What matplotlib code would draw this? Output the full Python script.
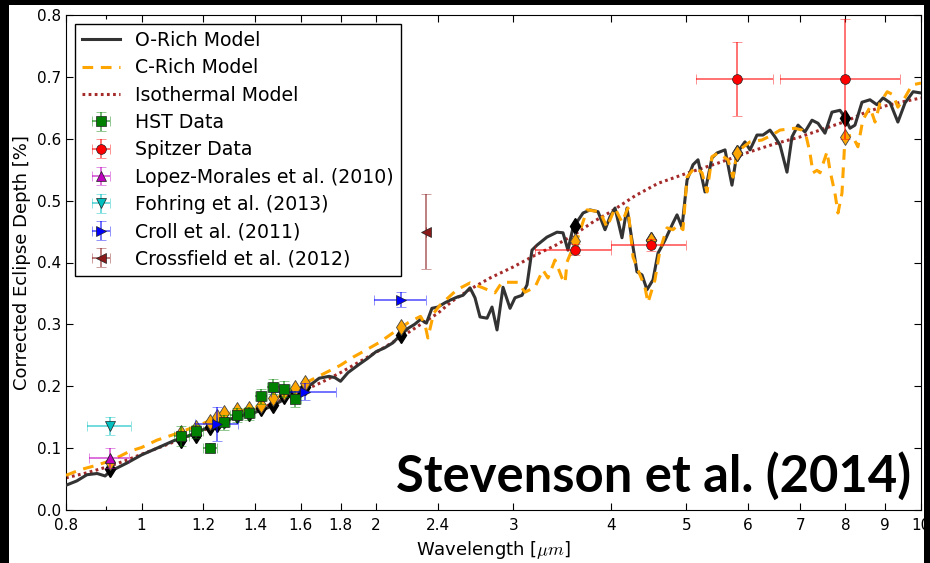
import matplotlib
matplotlib.use("Agg")
import matplotlib.pyplot as plt
from matplotlib.patches import Rectangle
from matplotlib.ticker import FixedLocator, FixedFormatter, FormatStrFormatter, LogLocator, NullFormatter

plt.rcParams['font.family'] = ['DejaVu Sans']
plt.rcParams['mathtext.fontset'] = 'cm'

# O-rich model spectrum (wavelength in micron, eclipse depth in %)
orich_wave = [0.800, 0.826, 0.851, 0.877, 0.898, 0.910, 0.958, 1.000, 1.047, 1.100,
              1.150, 1.200, 1.250, 1.300, 1.350, 1.400, 1.450, 1.500, 1.550, 1.600,
              1.650, 1.690, 1.740, 1.770, 1.800, 1.840, 1.900, 1.950, 2.000, 2.050,
              2.100, 2.150, 2.200, 2.240, 2.280, 2.320, 2.358, 2.400, 2.451, 2.487,
              2.539, 2.585, 2.639, 2.678, 2.718, 2.775, 2.816, 2.858, 2.909, 2.970,
              3.014, 3.077, 3.123, 3.169, 3.216, 3.312, 3.412, 3.473, 3.524, 3.577,
              3.685, 3.762, 3.852, 3.932, 3.991, 4.050, 4.134, 4.196, 4.258, 4.321,
              4.386, 4.451, 4.531, 4.598, 4.694, 4.807, 4.864, 4.936, 5.010, 5.099,
              5.175, 5.283, 5.393, 5.474, 5.605, 5.721, 5.807, 5.945, 6.034, 6.160,
              6.270, 6.401, 6.496, 6.593, 6.731, 6.831, 6.954, 7.098, 7.247, 7.377,
              7.530, 7.687, 7.872, 7.990, 8.107, 8.228, 8.400, 8.600, 8.780, 8.940,
              9.130, 9.340, 9.540, 9.770, 10.00]
orich_depth = [0.040, 0.047, 0.057, 0.059, 0.055, 0.062, 0.076, 0.089, 0.100, 0.112,
               0.120, 0.130, 0.139, 0.147, 0.153, 0.158, 0.165, 0.174, 0.184, 0.193,
               0.203, 0.213, 0.216, 0.214, 0.208, 0.222, 0.235, 0.245, 0.256, 0.262,
               0.270, 0.283, 0.294, 0.300, 0.308, 0.302, 0.326, 0.328, 0.335, 0.339,
               0.344, 0.347, 0.359, 0.343, 0.312, 0.310, 0.328, 0.291, 0.360, 0.326,
               0.343, 0.347, 0.364, 0.420, 0.428, 0.441, 0.449, 0.448, 0.420, 0.456,
               0.480, 0.485, 0.482, 0.453, 0.474, 0.488, 0.440, 0.488, 0.436, 0.385,
               0.380, 0.356, 0.372, 0.415, 0.436, 0.464, 0.477, 0.457, 0.533, 0.558,
               0.566, 0.514, 0.569, 0.577, 0.582, 0.525, 0.577, 0.595, 0.582, 0.606,
               0.606, 0.614, 0.603, 0.590, 0.546, 0.603, 0.622, 0.611, 0.630, 0.625,
               0.609, 0.643, 0.646, 0.634, 0.617, 0.622, 0.659, 0.663, 0.655, 0.666,
               0.658, 0.627, 0.658, 0.676, 0.674]

# C-rich model spectrum
crich_wave = [0.800, 0.834, 0.868, 0.915, 0.966, 1.000, 1.047, 1.100, 1.150, 1.200,
              1.250, 1.300, 1.350, 1.400, 1.450, 1.500, 1.550, 1.600, 1.650, 1.730,
              1.800, 1.868, 1.950, 2.020, 2.100, 2.200, 2.280, 2.310, 2.330, 2.370,
              2.415, 2.539, 2.639, 2.742, 2.841, 2.900, 2.952, 3.041, 3.104, 3.197,
              3.273, 3.322, 3.392, 3.463, 3.494, 3.515, 3.566, 3.619, 3.728, 3.874,
              3.955, 4.050, 4.134, 4.208, 4.271, 4.334, 4.425, 4.464, 4.557, 4.625,
              4.722, 4.807, 4.878, 4.950, 5.010, 5.130, 5.237, 5.315, 5.393, 5.490,
              5.654, 5.738, 5.807, 5.892, 6.034, 6.252, 6.439, 6.593, 6.891, 7.035,
              7.118, 7.204, 7.268, 7.355, 7.421, 7.576, 7.642, 7.755, 7.825, 7.918,
              7.990, 8.155, 8.300, 8.420, 8.600, 8.730, 8.860, 9.050, 9.210, 9.340,
              9.540, 9.740, 10.00]
crich_depth = [0.056, 0.065, 0.071, 0.080, 0.095, 0.101, 0.113, 0.122, 0.131, 0.140,
               0.149, 0.157, 0.161, 0.166, 0.174, 0.183, 0.192, 0.201, 0.210, 0.223,
               0.234, 0.247, 0.260, 0.271, 0.286, 0.303, 0.313, 0.300, 0.278, 0.318,
               0.331, 0.356, 0.367, 0.359, 0.351, 0.368, 0.368, 0.368, 0.352, 0.360,
               0.388, 0.375, 0.404, 0.375, 0.367, 0.401, 0.420, 0.436, 0.485, 0.482,
               0.457, 0.488, 0.465, 0.488, 0.409, 0.388, 0.360, 0.335, 0.372, 0.420,
               0.456, 0.453, 0.461, 0.453, 0.538, 0.554, 0.545, 0.514, 0.571, 0.577,
               0.566, 0.538, 0.577, 0.585, 0.595, 0.598, 0.606, 0.614, 0.617, 0.614,
               0.606, 0.577, 0.545, 0.549, 0.545, 0.579, 0.549, 0.512, 0.480, 0.512,
               0.603, 0.606, 0.587, 0.630, 0.651, 0.627, 0.658, 0.676, 0.671, 0.651,
               0.667, 0.687, 0.690]

# isothermal model
iso_wave = [0.80, 0.85, 0.90, 0.95, 1.00, 1.10, 1.20, 1.30, 1.40, 1.50,
            1.60, 1.70, 1.80, 1.90, 2.00, 2.10, 2.20, 2.30, 2.40, 2.50,
            2.65, 2.80, 3.00, 3.20, 3.40, 3.60, 3.80, 4.00, 4.30, 4.60,
            5.00, 5.50, 6.00, 6.50, 7.00, 7.50, 8.00, 8.50, 9.00, 9.50, 10.0]
iso_depth = [0.052, 0.060, 0.069, 0.079, 0.090, 0.110, 0.129, 0.146, 0.161, 0.176,
             0.191, 0.206, 0.222, 0.239, 0.255, 0.271, 0.287, 0.303, 0.318, 0.337,
             0.358, 0.375, 0.393, 0.412, 0.428, 0.446, 0.466, 0.482, 0.508, 0.528,
             0.544, 0.561, 0.578, 0.592, 0.603, 0.616, 0.628, 0.643, 0.653, 0.660, 0.666]

# band-integrated model values at the observed wavelengths
bin_wave = [0.91, 1.125, 1.175, 1.225, 1.25, 1.275, 1.325, 1.375, 1.425,
            1.475, 1.525, 1.575, 1.62, 2.15, 3.6, 4.5, 5.8, 8.0]
orich_bin = [0.066, 0.113, 0.122, 0.134, 0.139, 0.146, 0.153, 0.157, 0.165,
             0.170, 0.184, 0.190, 0.198, 0.283, 0.459, 0.436, 0.577, 0.634]
crich_bin = [0.077, 0.125, 0.132, 0.142, 0.150, 0.156, 0.162, 0.164, 0.170,
             0.181, 0.191, 0.197, 0.205, 0.295, 0.435, 0.437, 0.577, 0.603]

# measurements
hst_wave = [1.125, 1.175, 1.225, 1.275, 1.325, 1.375, 1.425, 1.475, 1.525, 1.575]
hst_depth = [0.119, 0.127, 0.101, 0.142, 0.154, 0.156, 0.184, 0.199, 0.195, 0.180]
hst_err = [0.016, 0.011, 0.008, 0.012, 0.011, 0.011, 0.012, 0.012, 0.013, 0.013]
hst_xerr = [0.025] * 10

spitzer_wave = [3.6, 4.5, 5.8, 8.0]
spitzer_depth = [0.421, 0.428, 0.696, 0.696]
spitzer_err = [0.009, 0.010, 0.060, 0.097]
spitzer_xerr = [0.40, 0.50, 0.66, 1.40]

lopez_wave, lopez_depth, lopez_err, lopez_xerr = [0.91], [0.084], [0.016], [0.055]
fohring_wave, fohring_depth, fohring_err, fohring_xerr = [0.91], [0.136], [0.015], [0.06]
croll_wave = [1.25, 1.62, 2.15]
croll_depth = [0.139, 0.191, 0.340]
croll_err = [0.028, 0.014, 0.012]
croll_xerr = [0.08, 0.155, 0.165]
crossfield_wave, crossfield_depth, crossfield_err, crossfield_xerr = [2.315], [0.450], [0.060], [0.0]

xticks = [0.8, 1, 1.2, 1.4, 1.6, 1.8, 2, 2.4, 3, 4, 5, 6, 7, 8, 9, 10]

fig = plt.figure(figsize=(9.3, 5.63), dpi=100, facecolor='black')
fig.patches.append(Rectangle((9 / 930, 0), 915 / 930, 558.5 / 563, transform=fig.transFigure,
                             facecolor='white', edgecolor='none', zorder=-10))
ax = fig.add_axes([66 / 930, 53 / 563, 855 / 930, 495 / 563])

ax.plot(orich_wave, orich_depth, '-', color='#333333', lw=2.2, label='O-Rich Model', zorder=3)
ax.plot(crich_wave, crich_depth, '--', color='orange', lw=2.2, dashes=(3.5, 2.5),
        label='C-Rich Model', zorder=4)
ax.plot(iso_wave, iso_depth, ':', color='#a52a2a', lw=2.2, dashes=(0.9, 1.1),
        label='Isothermal Model', zorder=2)

ax.plot(bin_wave, orich_bin, 'd', color='black', mec='black', ms=8, zorder=5)
ax.plot(bin_wave, crich_bin, 'd', color='orange', mec='#444444', mew=0.6, ms=8, zorder=6)

def data(x, y, yerr, xerr, fmt, color, label):
    ax.errorbar(x, y, yerr=yerr, xerr=xerr, fmt=fmt, color=color, mec='#222222', mew=0.5,
                ms=7, ecolor=matplotlib.colors.to_rgba(color, 0.6), elinewidth=1.3,
                capsize=3.5, capthick=1.3, label=label, zorder=7)

data(hst_wave, hst_depth, hst_err, hst_xerr, 's', 'green', 'HST Data')
data(spitzer_wave, spitzer_depth, spitzer_err, spitzer_xerr, 'o', 'red', 'Spitzer Data')
data(lopez_wave, lopez_depth, lopez_err, lopez_xerr, '^', 'm', 'Lopez-Morales et al. (2010)')
data(fohring_wave, fohring_depth, fohring_err, fohring_xerr, 'v', 'c', 'Fohring et al. (2013)')
data(croll_wave, croll_depth, croll_err, croll_xerr, '>', 'blue', 'Croll et al. (2011)')
data(crossfield_wave, crossfield_depth, crossfield_err, crossfield_xerr, '<', '#8b1a1a',
     'Crossfield et al. (2012)')

ax.set_xscale('log')
ax.set_xlim(0.8, 10)
ax.set_ylim(0, 0.8)
ax.xaxis.set_major_locator(FixedLocator(xticks))
ax.xaxis.set_major_formatter(FixedFormatter(['%g' % t for t in xticks]))
ax.xaxis.set_minor_locator(LogLocator(subs=[0.9], numticks=20))
ax.xaxis.set_minor_formatter(NullFormatter())
ax.yaxis.set_major_formatter(FormatStrFormatter('%.1f'))
ax.tick_params(which='both', direction='in', top=True, right=True, labelsize=11)
ax.tick_params(which='major', length=5, width=0.8)
ax.tick_params(which='minor', length=3, width=0.8)
ax.tick_params(axis='x', pad=6)

ax.set_xlabel(r'Wavelength [$\mu m$]', fontsize=13)
ax.set_ylabel('Corrected Eclipse Depth [%]', fontsize=13)

leg = ax.legend(loc='upper left', numpoints=1, fontsize=13.6, fancybox=False, framealpha=1,
                edgecolor='black', labelspacing=0.44, handlelength=2.0, borderaxespad=0.45)
leg.get_frame().set_linewidth(1.0)

ax.text(0.989, 0.036, 'Stevenson et al. (2014)', transform=ax.transAxes, ha='right',
        va='baseline', fontsize=36.5, fontweight='bold', family=['Lato', 'DejaVu Sans'], zorder=10)

fig.savefig('out.png', dpi=100, facecolor='black')
